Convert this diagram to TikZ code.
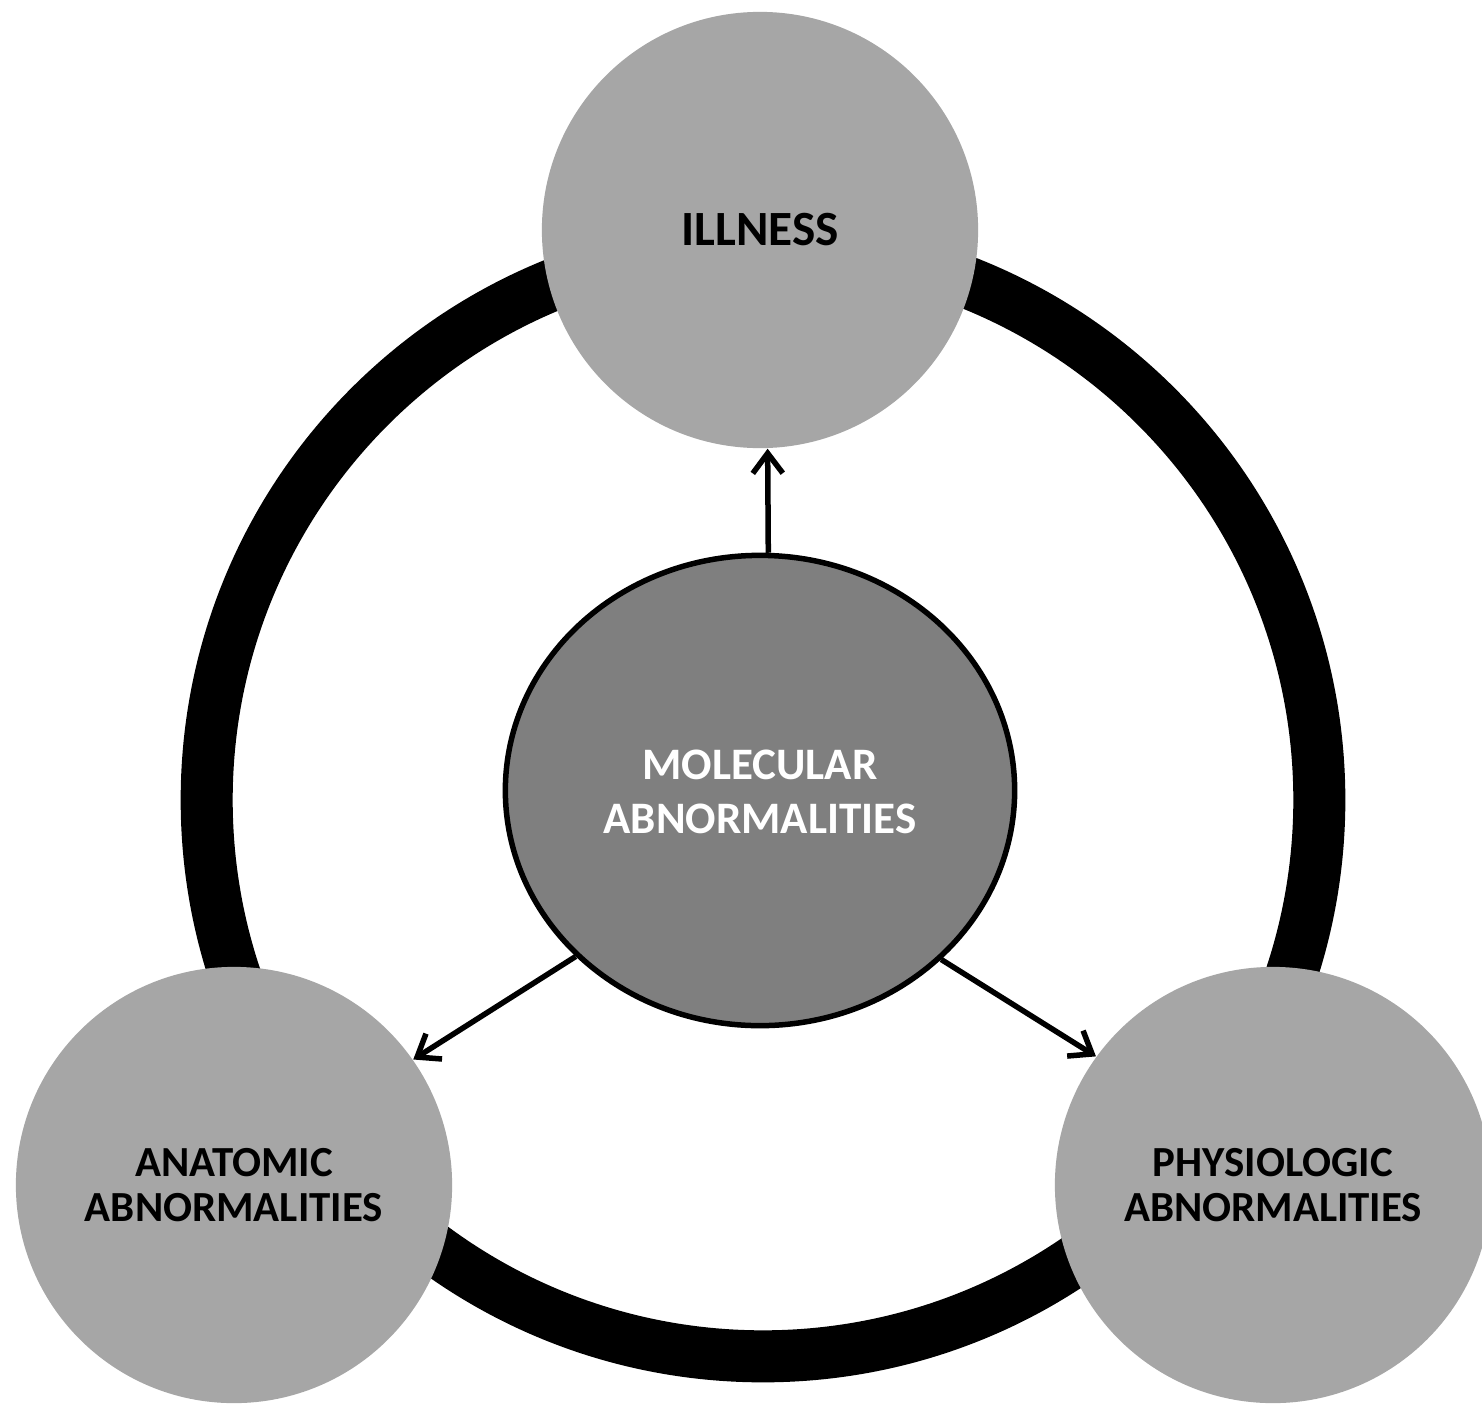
\documentclass[tikz,border=0pt]{standalone}
\usepackage{fontspec}
\setmainfont{Carlito}
\usetikzlibrary{shapes.geometric,arrows.meta}
\definecolor{outergray}{HTML}{A6A6A6}
\definecolor{innergray}{HTML}{7F7F7F}
\tikzset{
  disc/.style={circle, fill=outergray, minimum size=4.36cm, inner sep=0pt,
    align=center, font=\bfseries\fontsize{12.2pt}{12.8pt}\selectfont, text=black},
  hub/.style={ellipse, fill=innergray, draw=black, line width=0.055cm,
    minimum width=5.09cm, minimum height=4.70cm, inner sep=0pt,
    align=center, font=\bfseries\fontsize{12.8pt}{15.4pt}\selectfont, text=white},
  ring/.style={line width=0.52cm, black},
  link/.style={line width=0.055cm, black, -{Straight Barb[length=0.2cm, width=0.30cm, line width=0.055cm]}}
}
\begin{document}
\begin{tikzpicture}[x=0.01cm, y=-0.01cm]
  \useasboundingbox (0,0) rectangle (1482,1403);
  \fill[white] (0,0) rectangle (1482,1403);
  \clip (0,0) rectangle (1482,1403);
  % the thick cycle joining the three outcomes
  \coordinate (hubc) at (763,800);
  \draw[ring] (hubc) circle[radius=5.56cm];
  % outcome discs
  \node[disc, font=\bfseries\fontsize{14pt}{15pt}\selectfont] (ill) at (760,230) {ILLNESS};
  \node[disc] (ana) at (234,1185) {ANATOMIC\\ABNORMALITIES};
  \node[disc] (phy) at (1273,1185) {PHYSIOLOGIC\\ABNORMALITIES};
  % central cause
  \node[hub] (mol) at (760,790.5) {\\[-6pt]MOLECULAR\\ABNORMALITIES};
  % arrows from the cause to the outcomes
  \draw[link] (mol.88.4) -- (ill.272);
  \draw[link] (mol.222.3) -- (ana.35.8);
  \draw[link] (mol.317) -- (phy.144.8);
\end{tikzpicture}
\end{document}
